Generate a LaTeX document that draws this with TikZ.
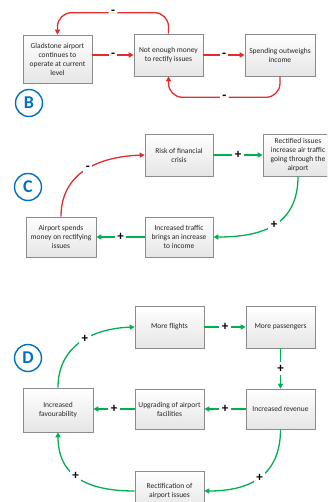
\documentclass[tikz,border=0pt]{standalone}
\usepackage{fontspec}
\setmainfont{Carlito}
\usetikzlibrary{arrows.meta,shadows}
\definecolor{cred}{RGB}{225,45,45}
\definecolor{cgreen}{RGB}{0,176,80}
\definecolor{cblue}{RGB}{0,112,192}
\definecolor{cborder}{RGB}{140,140,140}
\tikzset{
  box/.style={draw=cborder, line width=0.6pt, top color=white, bottom color=black!10,
    align=center, font=\fontsize{7.5}{9}\selectfont, text=black!85, inner sep=1pt,
    drop shadow={shadow xshift=1pt, shadow yshift=-1pt, opacity=0.25, fill=black}},
  neglink/.style={draw=cred, line width=1.3pt, -{Triangle[length=5pt,width=5pt]}},
  poslink/.style={draw=cgreen, line width=1.3pt, -{Triangle[length=5pt,width=5pt]}},
  sign/.style={fill=white, inner sep=2.5pt, text=black, font=\fontsize{13}{13}\selectfont\bfseries},
  badge/.style={circle, draw=cblue, line width=1.4pt, minimum size=27pt, inner sep=0pt,
    text=cblue, font=\fontsize{18}{18}\selectfont\bfseries}
}
\begin{document}
\begin{tikzpicture}[x=1pt,y=-1pt]
\useasboundingbox (0,0) rectangle (327,502);
\clip (0,0) rectangle (327,502);
% ---------- B ----------
\node[box, minimum width=69pt, minimum height=48pt] (b1) at (57.5,59) {Gladstone airport\\continues to\\operate at current\\level};
\node[box, minimum width=69pt, minimum height=42pt] (b2) at (168.5,55) {Not enough money\\to rectify issues};
\node[box, minimum width=70pt, minimum height=42pt] (b3) at (280,55) {Spending outweighs\\income};
\node[badge] (bb) at (29,103) {B};
\draw[neglink] (b1.east |- b2.west) -- node[sign] {-} (b2.west);
\draw[neglink] (b2) -- node[sign] {-} (b3);
\draw[neglink, rounded corners=14pt] (b2.north) -- ++(0,-21) -| node[sign, pos=0.25] {-} (b1.north);
\draw[neglink, rounded corners=14pt] (b3.south) -- ++(0,21) -| node[sign, pos=0.25] {-} (b2.south);
% ---------- C ----------
\node[box, minimum width=68pt, minimum height=42pt] (c1) at (179,155) {Risk of financial\\crisis};
\node[box, minimum width=70pt, minimum height=42pt] (c2) at (298,155) {Rectified issues\\increase air traffic\\going through the\\airport};
\node[box, minimum width=70pt, minimum height=40pt] (c3) at (61,237) {Airport spends\\money on rectifying\\issues};
\node[box, minimum width=68pt, minimum height=40pt] (c4) at (179,237) {Increased traffic\\brings an increase\\to income};
\node[badge] (cc) at (28,187) {C};
\draw[neglink] (c3.north) to[out=90, in=182, looseness=1.1] node[sign, pos=0.52] {-} (c1.west);
\draw[poslink] (c1) -- node[sign] {+} (c2);
\draw[poslink] (c2.south) to[out=270, in=0, looseness=1.2] node[sign, pos=0.5] {+} (c4.east);
\draw[poslink] (c4) -- node[sign] {+} (c3);
% ---------- D ----------
\node[box, minimum width=69pt, minimum height=42pt] (d1) at (169.5,327) {More flights};
\node[box, minimum width=69pt, minimum height=42pt] (d2) at (280.5,327) {More passengers};
\node[box, minimum width=70pt, minimum height=44pt] (d3) at (58,410) {Increased\\favourability};
\node[box, minimum width=69pt, minimum height=40pt] (d4) at (169.5,409) {Upgrading of airport\\facilities};
\node[box, minimum width=69pt, minimum height=40pt] (d5) at (280.5,409) {Increased revenue};
\node[box, minimum width=69pt, minimum height=40pt] (d6) at (169.5,491) {Rectification of\\airport issues};
\node[badge] (dd) at (28,358) {D};
\draw[poslink] (d3.north) to[out=90, in=182, looseness=1.1] node[sign, pos=0.55] {+} (d1.west);
\draw[poslink] (d1) -- node[sign] {+} (d2);
\draw[poslink] (d2) -- node[sign] {+} (d5);
\draw[poslink] (d5) -- node[sign] {+} (d4);
\draw[poslink] (d4) -- node[sign] {+} (d3.east |- d4.west);
\draw[poslink] (d5.south) to[out=270, in=0, looseness=1.2] node[sign, pos=0.5] {+} (d6.east);
\draw[poslink] (d6.west) to[out=180, in=270, looseness=1.2] node[sign, pos=0.55] {+} (d3.south);
\end{tikzpicture}
\end{document}
